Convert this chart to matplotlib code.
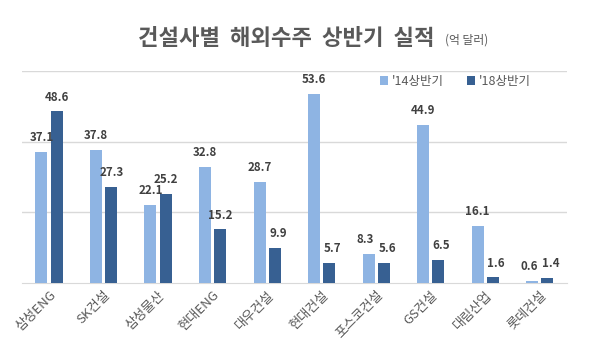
import matplotlib
matplotlib.use('Agg')
import matplotlib.pyplot as plt
import numpy as np

plt.rcParams['font.family'] = ['Noto Sans CJK KR', 'DejaVu Sans']

companies = ['삼성ENG', 'SK건설', '삼성물산', '현대ENG', '대우건설',
             '현대건설', '포스코건설', 'GS건설', '대림산업', '롯데건설']
h1_2014 = [37.1, 37.8, 22.1, 32.8, 28.7, 53.6, 8.3, 44.9, 16.1, 0.6]
h1_2018 = [48.6, 27.3, 25.2, 15.2, 9.9, 5.7, 5.6, 6.5, 1.6, 1.4]
series_names = ["'14상반기", "'18상반기"]

c_light = '#8EB4E3'
c_dark = '#376092'
txt = '#404040'

fig = plt.figure(figsize=(5.9, 3.56), dpi=100)
ax = fig.add_axes([0.037, 0.205, 0.924, 0.595])

x = np.arange(len(companies))
w = 0.22
off = 0.14
b1 = ax.bar(x - off, h1_2014, w, color=c_light, label=series_names[0], zorder=3)
b2 = ax.bar(x + off, h1_2018, w, color=c_dark, label=series_names[1], zorder=3)

for bars, vals, shift in [(b1, h1_2014, -1), (b2, h1_2018, 1)]:
    for b, v in zip(bars, vals):
        dx = 0
        # nudge labels apart where the two bars are both short
        if v < 10:
            dx = 0.06 * shift
        ax.text(b.get_x() + b.get_width() / 2 + dx, v + 2.2, '%.1f' % v,
                ha='center', va='bottom', fontsize=8.3, fontweight='bold', color=txt)

ax.set_xlim(-0.5, len(companies) - 0.5)
ax.set_ylim(0, 60)
ax.set_yticks([20, 40, 60])
ax.yaxis.grid(True, color='#D9D9D9', linewidth=1, zorder=0)
ax.tick_params(axis='y', length=0, labelleft=False)
ax.tick_params(axis='x', length=0, pad=4)
ax.set_xticks(x)
ax.set_xticklabels(companies, rotation=45, ha='right', rotation_mode='anchor',
                   fontsize=9.5, color='#595959')
for s in ['top', 'left', 'right']:
    ax.spines[s].set_visible(False)
ax.spines['bottom'].set_color('#D9D9D9')

ax.legend(loc='upper right', bbox_to_anchor=(0.955, 1.035), ncol=2, frameon=False,
          fontsize=9, handlelength=0.7, handleheight=0.7, columnspacing=1.8,
          handletextpad=0.3, labelcolor='#595959')

fig.text(0.737, 0.893, '건설사별  해외수주  상반기  실적', ha='right', va='center',
         fontsize=16, fontweight='bold', color='#595959')
fig.text(0.754, 0.888, '(억 달러)', ha='left', va='center', fontsize=8.5, color='#595959')

fig.savefig('out.png', dpi=100, facecolor='white')
